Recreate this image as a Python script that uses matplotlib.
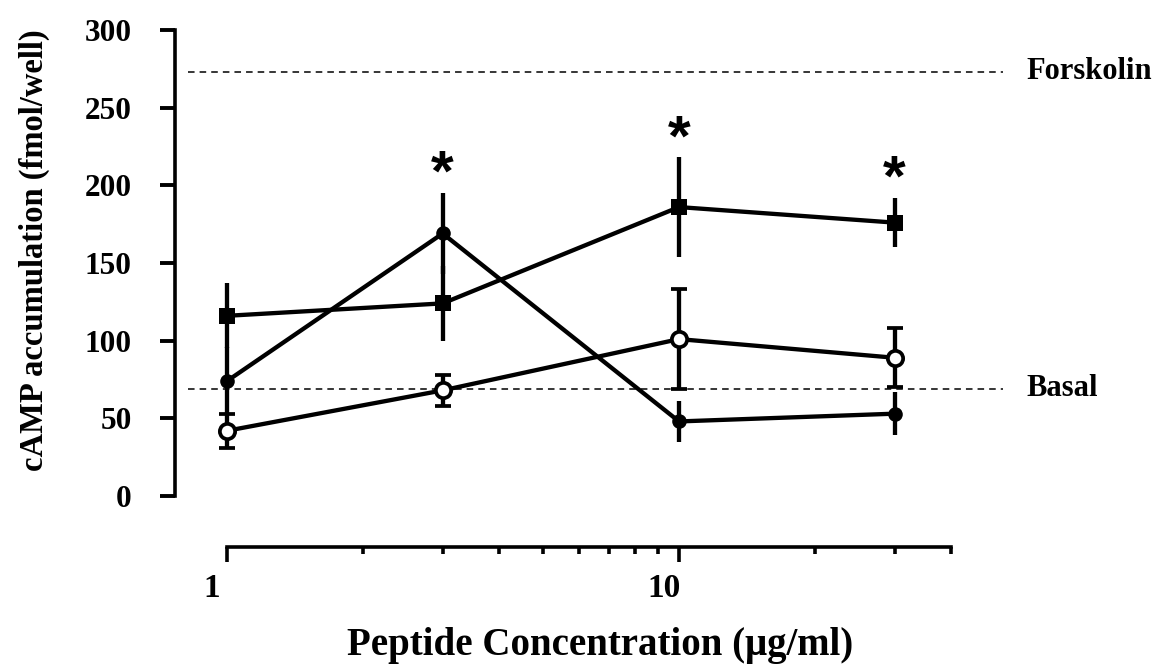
import matplotlib
matplotlib.use('Agg')
import matplotlib.pyplot as plt
from matplotlib.ticker import FixedLocator, NullFormatter
from matplotlib.transforms import ScaledTranslation

# peptide concentration (ug/ml)
conc = [1, 3, 10, 30]

# filled squares
sq_mean = [116, 124, 186, 176]
sq_err = [21, 24, 32, 16]
# filled circles
fc_mean = [74, 169, 48, 53]
fc_err = [22, 26, 13, 14]
# open circles
oc_mean = [42, 68, 101, 89]
oc_err = [11, 10, 32, 19]

forskolin = 273
basal = 69

# asterisks: over which concentration and which error bar top
star_conc = [3, 10, 30]
star_top = [195, 218, 192]

yticks = [0, 50, 100, 150, 200, 250, 300]
xmajor = [1, 10]
xminor = [2, 3, 4, 5, 6, 7, 8, 9, 20, 30, 40]

plt.rcParams['font.family'] = ['Liberation Serif', 'DejaVu Serif']
plt.rcParams['font.weight'] = 'bold'

fig = plt.figure(figsize=(11.61, 6.69), dpi=100)
ax = fig.add_axes([175/1161, 1-496/669, 835/1161, 466/669])

# x limits so that 1 -> px 227 and 40 -> px 952
dec = 452.0
ax.set_xscale('log')
ax.set_xlim(10**((175-227)/dec), 10**((1010-227)/dec))
ax.set_ylim(0, 300)

kw = dict(color='black', lw=3.1, elinewidth=3.1, capsize=6.1, capthick=2.8, clip_on=False)
ax.errorbar(conc, sq_mean, yerr=sq_err, marker='s', ms=11.5, mew=0, zorder=3, **kw)
ax.errorbar(conc, fc_mean, yerr=fc_err, marker='o', ms=10.5, mew=0, zorder=3, **kw)
ax.errorbar(conc, oc_mean, yerr=oc_err, marker='o', ms=11, mew=2.7, mfc='white', mec='black', zorder=4, **kw)

# reference lines
ax.axhline(forskolin, xmin=13/835, xmax=828/835, color='black', lw=1.1, ls=(0, (4.3, 3.3)))
ax.axhline(basal, xmin=13/835, xmax=828/835, color='black', lw=1.1, ls=(0, (4.3, 3.3)))
ax.annotate('Forskolin', xy=(1, forskolin), xycoords=('axes fraction', 'data'),
            xytext=(12, 0), textcoords='offset points', ha='left', va='center',
            fontsize=22, fontweight='bold', annotation_clip=False)
ax.annotate('Basal', xy=(1, basal), xycoords=('axes fraction', 'data'),
            xytext=(12, 0), textcoords='offset points', ha='left', va='center',
            fontsize=22, fontweight='bold', annotation_clip=False)

for c, t in zip(star_conc, star_top):
    ax.annotate('*', xy=(c, t), xytext=(0, -7), textcoords='offset points',
                ha='center', va='bottom', fontsize=42, fontweight='bold',
                family=['Liberation Sans'], annotation_clip=False)

# axes styling
for s in ['top', 'right']:
    ax.spines[s].set_visible(False)
ax.spines['left'].set_linewidth(2.6)
ax.spines['bottom'].set_linewidth(2.6)
ax.spines['left'].set_bounds(0, 300)
ax.spines['bottom'].set_position(('outward', 51*0.72))
ax.spines['bottom'].set_bounds(1, 40)

ax.set_yticks(yticks)
ax.tick_params(axis='y', direction='out', length=11, width=2.8, pad=20, labelsize=22.5)
ax.xaxis.set_major_locator(FixedLocator(xmajor))
ax.xaxis.set_minor_locator(FixedLocator(xminor))
ax.xaxis.set_minor_formatter(NullFormatter())
ax.set_xticklabels(['1', '10'])
ax.tick_params(axis='x', which='major', direction='out', length=11, width=2.6, pad=8, labelsize=24)
ax.tick_params(axis='x', which='minor', direction='out', length=5, width=2.6)

shift = ScaledTranslation(-15/100, 0, fig.dpi_scale_trans)
for lab in ax.get_xticklabels():
    lab.set_transform(lab.get_transform() + shift)
for lab in ax.get_xticklabels() + ax.get_yticklabels():
    lab.set_fontweight('bold')

fig.text(600/1161, 1-645/669, 'Peptide Concentration (\u03bcg/ml)', ha='center', va='center',
         fontsize=28, fontweight='bold')
fig.text(34/1161, 1-250/669, 'cAMP accumulation (fmol/well)', ha='center', va='center',
         rotation=90, fontsize=23.5, fontweight='bold')

fig.savefig('out.png', dpi=100)
